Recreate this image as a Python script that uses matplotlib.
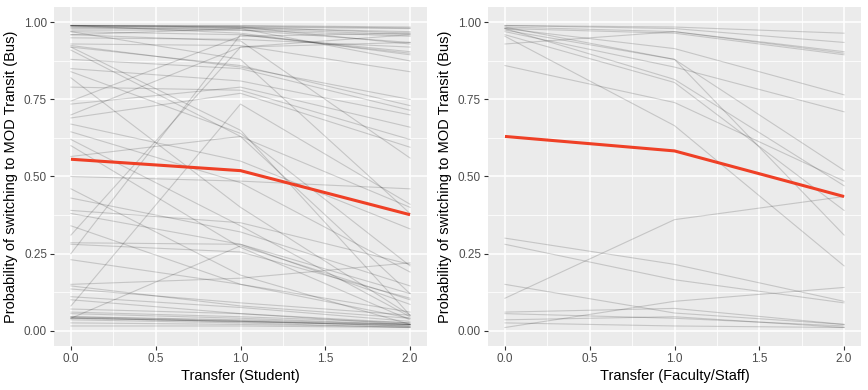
import matplotlib.pyplot as plt
from matplotlib.ticker import MultipleLocator

plt.rcParams['font.family'] = ['Liberation Sans', 'DejaVu Sans']

transfer = [0, 1, 2]

# predicted probabilities per respondent (student panel), value at transfer 0, 1, 2
student_lines = [
    [0.99, 0.99, 0.985], [0.99, 0.985, 0.98], [0.985, 0.985, 0.965],
    [0.98, 0.98, 0.96], [0.975, 0.975, 0.935], [0.97, 0.96, 0.905],
    [0.96, 0.98, 0.875], [0.99, 0.965, 0.895], [0.95, 0.945, 0.92],
    [0.93, 0.925, 0.84], [0.92, 0.86, 0.73], [0.925, 0.855, 0.75],
    [0.91, 0.63, 0.12], [0.92, 0.65, 0.05], [0.88, 0.85, 0.715],
    [0.85, 0.81, 0.70], [0.84, 0.64, 0.21], [0.82, 0.40, 0.05],
    [0.79, 0.78, 0.62], [0.745, 0.955, 0.965], [0.735, 0.79, 0.66],
    [0.70, 0.92, 0.935], [0.69, 0.77, 0.595], [0.67, 0.55, 0.33],
    [0.645, 0.48, 0.19], [0.62, 0.34, 0.045], [0.60, 0.27, 0.035],
    [0.50, 0.485, 0.46], [0.46, 0.18, 0.02], [0.43, 0.32, 0.145],
    [0.39, 0.35, 0.215], [0.38, 0.28, 0.085], [0.34, 0.15, 0.04],
    [0.31, 0.92, 0.96], [0.285, 0.28, 0.12], [0.28, 0.255, 0.105],
    [0.25, 0.96, 0.90], [0.23, 0.15, 0.06], [0.15, 0.17, 0.22],
    [0.145, 0.08, 0.04], [0.135, 0.09, 0.05], [0.11, 0.075, 0.03],
    [0.10, 0.055, 0.025], [0.08, 0.735, 0.41], [0.07, 0.055, 0.02],
    [0.045, 0.035, 0.02], [0.04, 0.275, 0.10], [0.04, 0.03, 0.015],
    [0.035, 0.025, 0.01], [0.025, 0.02, 0.012], [0.015, 0.015, 0.01],
    [0.055, 0.04, 0.02], [0.06, 0.045, 0.025], [0.96, 0.94, 0.56],
    [0.97, 0.88, 0.38], [0.565, 0.63, 0.40],
    [0.99, 0.988, 0.982], [0.988, 0.982, 0.97], [0.985, 0.975, 0.955],
    [0.99, 0.985, 0.93], [0.042, 0.028, 0.018], [0.04, 0.03, 0.02],
    [0.045, 0.032, 0.014],
]
student_mean = [0.556, 0.519, 0.376]

# faculty/staff panel
staff_lines = [
    [0.99, 0.985, 0.965], [0.99, 0.98, 0.935], [0.985, 0.97, 0.905],
    [0.98, 0.965, 0.895], [0.985, 0.88, 0.31], [0.98, 0.915, 0.765],
    [0.96, 0.805, 0.39], [0.955, 0.665, 0.21], [0.93, 0.97, 0.90],
    [0.86, 0.74, 0.485], [0.98, 0.815, 0.47], [0.975, 0.88, 0.52],
    [0.97, 0.855, 0.71], [0.30, 0.215, 0.095], [0.28, 0.165, 0.09],
    [0.15, 0.057, 0.02], [0.105, 0.36, 0.435], [0.06, 0.072, 0.02],
    [0.055, 0.04, 0.015], [0.035, 0.045, 0.01], [0.01, 0.095, 0.14],
    [0.025, 0.015, 0.01],
]
staff_mean = [0.63, 0.583, 0.435]

x_ticks = [0.0, 0.5, 1.0, 1.5, 2.0]
y_ticks = [0.00, 0.25, 0.50, 0.75, 1.00]


def draw_panel(ax, lines, mean, xlabel):
    ax.set_facecolor('#EBEBEB')
    for ln in lines:
        ax.plot(transfer, ln, color='black', alpha=0.16, lw=0.8)
    ax.plot(transfer, mean, color='#EF4026', lw=2.2, solid_capstyle='butt')

    ax.set_xlim(-0.1, 2.1)
    ax.set_ylim(-0.05, 1.05)
    ax.set_xticks(x_ticks)
    ax.set_xticklabels(['%.1f' % t for t in x_ticks])
    ax.set_yticks(y_ticks)
    ax.set_yticklabels(['%.2f' % t for t in y_ticks])
    ax.xaxis.set_minor_locator(MultipleLocator(0.25))
    ax.yaxis.set_minor_locator(MultipleLocator(0.125))
    ax.grid(which='major', color='white', lw=1.1)
    ax.grid(which='minor', color='white', lw=0.55)
    ax.set_axisbelow(True)
    for s in ax.spines.values():
        s.set_visible(False)
    ax.tick_params(which='major', length=3, width=0.8, color='#333333',
                   labelsize=8.5, labelcolor='#4D4D4D', pad=2)
    ax.tick_params(which='minor', length=0)
    ax.set_xlabel(xlabel, fontsize=10.5, labelpad=3)
    ax.set_ylabel('Probability of switching to MOD Transit (Bus)',
                  fontsize=10.5, labelpad=4)


fig = plt.figure(figsize=(8.68, 3.9), dpi=100)
ax1 = fig.add_axes([54 / 868, 1 - 346 / 390, 373 / 868, 339 / 390])
ax2 = fig.add_axes([488 / 868, 1 - 346 / 390, 373 / 868, 339 / 390])

draw_panel(ax1, student_lines, student_mean, 'Transfer (Student)')
draw_panel(ax2, staff_lines, staff_mean, 'Transfer (Faculty/Staff)')

fig.savefig('out.png', dpi=100)
